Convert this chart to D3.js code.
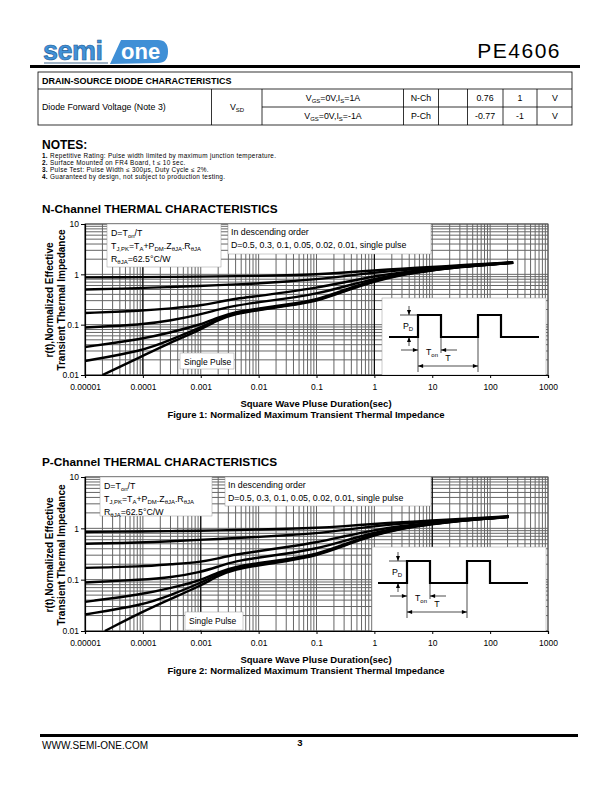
<!DOCTYPE html>
<html>
<head>
<meta charset="utf-8">
<title>PE4606</title>
<script src="https://cdn.jsdelivr.net/npm/d3@7"></script>
<style>
body { margin: 0; background: #fff; }
svg text { font-family: "Liberation Sans", Arial, sans-serif; }
</style>
</head>
<body>
<svg id="page" width="612" height="792"></svg>
<script>
// ---- chart data ----
var xTickValues = [1e-5, 1e-4, 1e-3, 1e-2, 0.1, 1, 10, 100, 1000];
var xTickLabels = ["0.00001", "0.0001", "0.001", "0.01", "0.1", "1", "10", "100", "1000"];
var yTickValues = [0.01, 0.1, 1, 10];
var yTickLabels = ["0.01", "0.1", "1", "10"];
var seriesNames = ["D=0.5", "D=0.3", "D=0.1", "D=0.05", "D=0.02", "D=0.01", "Single Pulse"];

// pulse width (sec) shared by duty-cycle curves
var nTimes = [1e-5, 1e-4, 3e-4, 1e-3, 2e-3, 4e-3, 1e-2, 3e-2, 0.1, 0.3, 1, 3, 10, 30, 100, 250];
var nD05  = [0.87, 0.88, 0.89, 0.9, 0.91, 0.92, 0.93, 0.96, 1.0, 1.08, 1.2, 1.3, 1.4, 1.52, 1.63, 1.75];
var nD03  = [0.5, 0.53, 0.56, 0.59, 0.61, 0.63, 0.66, 0.72, 0.8, 0.92, 1.08, 1.22, 1.33, 1.48, 1.6, 1.73];
var nD01  = [0.17, 0.19, 0.21, 0.24, 0.28, 0.33, 0.37, 0.44, 0.54, 0.69, 0.92, 1.1, 1.27, 1.45, 1.58, 1.72];
var nD005 = [0.088, 0.1, 0.12, 0.16, 0.2, 0.24, 0.28, 0.33, 0.41, 0.57, 0.82, 1.05, 1.24, 1.43, 1.57, 1.71];
var nD002 = [0.036, 0.052, 0.07, 0.1, 0.14, 0.18, 0.21, 0.25, 0.31, 0.49, 0.77, 1.02, 1.22, 1.42, 1.57, 1.7];
var nD001 = [0.019, 0.03, 0.05, 0.088, 0.13, 0.17, 0.2, 0.24, 0.3, 0.47, 0.75, 1.0, 1.21, 1.41, 1.56, 1.7];
var nSingleTimes = [2e-5, 1e-4, 3e-4, 1e-3, 2e-3, 4e-3, 1e-2, 3e-2, 0.1, 0.3, 1, 3, 10, 30, 100, 250];
var nSingle = [0.01, 0.024, 0.044, 0.08, 0.125, 0.165, 0.195, 0.235, 0.29, 0.46, 0.73, 0.99, 1.2, 1.4, 1.55, 1.69];

var pTimes = [1e-5, 1e-4, 3e-4, 1e-3, 2e-3, 4e-3, 1e-2, 3e-2, 0.1, 0.3, 1, 3, 10, 30, 100, 210];
var pD05  = [0.85, 0.87, 0.88, 0.9, 0.91, 0.93, 0.95, 0.98, 1.02, 1.1, 1.22, 1.32, 1.42, 1.53, 1.62, 1.72];
var pD03  = [0.5, 0.53, 0.56, 0.6, 0.62, 0.65, 0.68, 0.73, 0.8, 0.93, 1.1, 1.24, 1.35, 1.48, 1.6, 1.7];
var pD01  = [0.17, 0.18, 0.2, 0.22, 0.26, 0.31, 0.36, 0.43, 0.53, 0.7, 0.93, 1.12, 1.28, 1.45, 1.58, 1.69];
var pD005 = [0.088, 0.1, 0.11, 0.14, 0.18, 0.23, 0.27, 0.32, 0.4, 0.57, 0.83, 1.06, 1.25, 1.43, 1.57, 1.68];
var pD002 = [0.037, 0.052, 0.068, 0.097, 0.14, 0.18, 0.21, 0.25, 0.31, 0.49, 0.78, 1.03, 1.23, 1.42, 1.56, 1.67];
var pD001 = [0.021, 0.032, 0.05, 0.086, 0.13, 0.17, 0.2, 0.24, 0.3, 0.47, 0.76, 1.01, 1.22, 1.41, 1.56, 1.67];
var pSingleTimes = [2.2e-5, 1e-4, 3e-4, 1e-3, 2e-3, 4e-3, 1e-2, 3e-2, 0.1, 0.3, 1, 3, 10, 30, 100, 210];
var pSingle = [0.01, 0.024, 0.042, 0.076, 0.12, 0.16, 0.19, 0.23, 0.29, 0.46, 0.74, 1.0, 1.21, 1.4, 1.55, 1.66];

var svg = d3.select("#page");
var FONT = "Liberation Sans, Arial, sans-serif";

// text with _{sub} parts
function rich(sel, str, size) {
  var parts = str.split(/(_\{[^}]*\})/);
  var shifted = false;
  parts.forEach(function(p) {
    if (!p) return;
    if (p.indexOf("_{") === 0) {
      sel.append("tspan").attr("font-size", size * 0.68).attr("dy", shifted ? 0 : size * 0.25).text(p.slice(2, -1));
      shifted = true;
    } else {
      sel.append("tspan").attr("dy", shifted ? -size * 0.25 : 0).text(p);
      shifted = false;
    }
  });
  return sel;
}

function txt(x, y, str, size, opts) {
  opts = opts || {};
  var t = svg.append("text")
    .attr("x", x).attr("y", y)
    .attr("font-size", size)
    .attr("font-weight", opts.bold ? "bold" : null)
    .attr("text-anchor", opts.anchor || "start")
    .attr("fill", opts.fill || "#000");
  if (opts.spacing) t.attr("letter-spacing", opts.spacing);
  return rich(t, str, size);
}

// ---- header ----
svg.append("line").attr("x1", 44).attr("x2", 108).attr("y1", 63).attr("y2", 63)
  .attr("stroke", "#9fb3c6").attr("stroke-width", 2);
svg.append("text").attr("x", 43).attr("y", 60).attr("font-size", 27).attr("font-weight", "bold")
  .attr("font-family", "DejaVu Sans").attr("letter-spacing", -0.5)
  .attr("fill", "#4192d8").attr("stroke", "#1d5a94").attr("stroke-width", 0.6).text("semi");
svg.append("path")
  .attr("d", "M110,64 L121,40 L158,40 Q168,40 168,51.5 Q168,63 158,63 Z")
  .attr("fill", "#3f8fd6");
svg.append("text").attr("x", 121).attr("y", 59).attr("font-size", 22).attr("font-weight", "bold")
  .attr("font-family", "DejaVu Sans").attr("fill", "#fff").text("one");
txt(561, 58, "PE4606", 21, {anchor: "end", spacing: 1.5});
svg.append("line").attr("x1", 30).attr("x2", 580).attr("y1", 66.5).attr("y2", 66.5)
  .attr("stroke", "#000").attr("stroke-width", 3);

// ---- diode table ----
var tL = 38, tR = 572, tRows = [72, 89, 107, 125];
var tCols = [211.5, 262, 403.5, 438.5, 467.5, 503, 537];
var tg = svg.append("g").attr("stroke", "#000").attr("stroke-width", 0.8);
tg.append("rect").attr("x", tL).attr("y", tRows[0]).attr("width", tR - tL).attr("height", tRows[3] - tRows[0]).attr("fill", "none");
tg.append("line").attr("x1", tL).attr("x2", tR).attr("y1", tRows[1]).attr("y2", tRows[1]);
tg.append("line").attr("x1", tCols[1]).attr("x2", tR).attr("y1", tRows[2]).attr("y2", tRows[2]);
tCols.forEach(function(c) {
  tg.append("line").attr("x1", c).attr("x2", c).attr("y1", tRows[1]).attr("y2", tRows[3]);
});
txt(42, 84, "DRAIN-SOURCE DIODE CHARACTERISTICS", 9, {bold: true});
txt(42, 110, "Diode Forward Voltage (Note 3)", 8.8);
txt(237, 110, "V_{SD}", 8.8, {anchor: "middle"});
txt(333, 101, "V_{GS}=0V,I_{S}=1A", 8.8, {anchor: "middle"});
txt(333, 119, "V_{GS}=0V,I_{S}=-1A", 8.8, {anchor: "middle"});
txt(421, 101, "N-Ch", 8.8, {anchor: "middle"});
txt(421, 119, "P-Ch", 8.8, {anchor: "middle"});
txt(485, 101, "0.76", 8.8, {anchor: "middle"});
txt(485, 119, "-0.77", 8.8, {anchor: "middle"});
txt(520, 101, "1", 8.8, {anchor: "middle"});
txt(520, 119, "-1", 8.8, {anchor: "middle"});
txt(555, 101, "V", 8.8, {anchor: "middle"});
txt(555, 119, "V", 8.8, {anchor: "middle"});

// ---- notes ----
txt(42, 148.5, "NOTES:", 12, {bold: true});
var notes = [
  "Repetitive Rating: Pulse width limited by maximum junction temperature.",
  "Surface Mounted on FR4 Board, t \u2264 10 sec.",
  "Pulse Test: Pulse Width \u2264 300\u03bcs, Duty Cycle \u2264 2%.",
  "Guaranteed by design, not subject to production testing."
];
notes.forEach(function(n, i) {
  var t = svg.append("text").attr("x", 42).attr("y", 157.5 + i * 7.3)
    .attr("font-size", 6.4).attr("letter-spacing", 0.3);
  t.append("tspan").attr("font-weight", "bold").text((i + 1) + ". ");
  t.append("tspan").text(n);
});

// ---- thermal charts ----
function drawChart(cfg) {
  var x = d3.scaleLog().domain([1e-5, 1000]).range([85, 548]);
  var y = d3.scaleLog().domain([0.01, 10]).range([cfg.bottom, cfg.top]);
  var g = svg.append("g");

  txt(42, cfg.top - 11, cfg.title, 11.8, {bold: true});

  // minor + major grid
  g.append("g").selectAll("line").data(x.ticks()).join("line")
    .attr("x1", d => x(d)).attr("x2", d => x(d))
    .attr("y1", cfg.top).attr("y2", cfg.bottom)
    .attr("stroke", "#666").attr("stroke-width", 1);
  g.append("g").selectAll("line").data(y.ticks()).join("line")
    .attr("x1", 85).attr("x2", 548)
    .attr("y1", d => y(d)).attr("y2", d => y(d))
    .attr("stroke", "#666").attr("stroke-width", 1);
  g.append("g").selectAll("line").data(cfg.darkX).join("line")
    .attr("x1", d => x(d)).attr("x2", d => x(d))
    .attr("y1", cfg.top).attr("y2", cfg.bottom)
    .attr("stroke", "#000").attr("stroke-width", 1.1);
  g.append("rect").attr("x", 85).attr("y", cfg.top).attr("width", 463).attr("height", cfg.bottom - cfg.top)
    .attr("fill", "none").attr("stroke", "#555").attr("stroke-width", 1);

  // white annotation boxes
  cfg.boxes.forEach(function(b) {
    g.append("rect").attr("x", b[0]).attr("y", b[1]).attr("width", b[2] - b[0]).attr("height", b[3] - b[1])
      .attr("fill", "#fff").attr("stroke", "#999").attr("stroke-width", 0.5);
  });

  // axes
  var ya = g.append("g").attr("transform", "translate(85,0)")
    .call(d3.axisLeft(y).tickValues(yTickValues).tickFormat((d, i) => yTickLabels[i]).tickSize(4).tickPadding(2));
  var xa = g.append("g").attr("transform", "translate(0," + cfg.bottom + ")")
    .call(d3.axisBottom(x).tickValues(xTickValues).tickFormat((d, i) => xTickLabels[i]).tickSize(3).tickPadding(6));
  [ya, xa].forEach(function(a) {
    a.attr("font-family", FONT).attr("font-size", 8.5);
    a.select(".domain").attr("stroke", "#000").attr("stroke-width", 1.2);
  });

  // curves
  var line = d3.line().x(d => x(d[0])).y(d => y(d[1])).curve(d3.curveBasis);
  cfg.series.forEach(function(s) {
    var pts = s.t.map((t, i) => [t, s.v[i]]);
    g.append("path").attr("d", line(pts)).attr("fill", "none")
      .attr("stroke", "#000").attr("stroke-width", 2.4).attr("stroke-linejoin", "round");
  });

  // annotation text
  var b1 = cfg.boxes[0], b2 = cfg.boxes[1];
  txt(b1[0] + 4, b1[1] + 12, "D=T_{on}/T", 8.8);
  txt(b1[0] + 4, b1[1] + 25, "T_{J,PK}=T_{A}+P_{DM}.Z_{\u03b8JA}.R_{\u03b8JA}", 8.8);
  txt(b1[0] + 4, b1[1] + 38, "R_{\u03b8JA}=62.5\u00b0C/W", 8.8);
  txt(b2[0] + 3, b2[1] + 11, "In descending order", 8.8);
  txt(b2[0] + 3, b2[1] + 24, "D=0.5, 0.3, 0.1, 0.05, 0.02, 0.01, single pulse", 8.8);
  var sp = cfg.boxes[3];
  txt(sp[0] + 4, sp[1] + 12, "Single Pulse", 8.5);

  // pulse sketch inside the inset
  var bx = cfg.pulse[0], by = cfg.pulse[1];
  var r1 = bx + 29, f1 = bx + 52, r2 = bx + 89, f2 = bx + 112, end = bx + 150, hi = by - 22;
  var pg = g.append("g");
  pg.append("path")
    .attr("d", "M" + bx + "," + by + "H" + r1 + "V" + hi + "H" + f1 + "V" + by + "H" + r2 + "V" + hi + "H" + f2 + "V" + by + "H" + end)
    .attr("fill", "none").attr("stroke", "#000").attr("stroke-width", 2.2);
  var thin = function(x1, y1, x2, y2) {
    pg.append("line").attr("x1", x1).attr("y1", y1).attr("x2", x2).attr("y2", y2).attr("stroke", "#000").attr("stroke-width", 0.7);
  };
  var arrow = function(px, py, dir) {
    var a = 3.2;
    var pts = dir === "down" ? [[px, py], [px - a / 1.6, py - a * 1.6], [px + a / 1.6, py - a * 1.6]]
      : dir === "up" ? [[px, py], [px - a / 1.6, py + a * 1.6], [px + a / 1.6, py + a * 1.6]]
      : dir === "right" ? [[px, py], [px - a * 1.6, py - a / 1.6], [px - a * 1.6, py + a / 1.6]]
      : [[px, py], [px + a * 1.6, py - a / 1.6], [px + a * 1.6, py + a / 1.6]];
    pg.append("path").attr("d", "M" + pts.join("L") + "Z").attr("fill", "#000");
  };
  var ax = r1 - 9;
  thin(r1 - 18, hi, r1, hi);
  thin(ax, hi - 9, ax, hi); arrow(ax, hi, "down");
  thin(ax, by + 9, ax, by); arrow(ax, by, "up");
  txt(ax - 1, by - 8, "P_{D}", 8.8, {anchor: "middle"});
  thin(r1, by, r1, by + 35);
  thin(f1, by, f1, by + 16);
  thin(r2, by, r2, by + 35);
  thin(r1 - 17, by + 13, r1, by + 13); arrow(r1, by + 13, "right");
  thin(f1 + 16, by + 13, f1, by + 13); arrow(f1, by + 13, "left");
  txt(f1 - 9, by + 18, "T_{on}", 8.8, {anchor: "middle"});
  thin(r1, by + 29, r2, by + 29); arrow(r1, by + 29, "left"); arrow(r2, by + 29, "right");
  txt((r1 + r2) / 2, by + 24, "T", 8.8, {anchor: "middle"});

  // axis titles and caption
  var yt = svg.append("text").attr("transform", "translate(0," + cfg.yMid + ") rotate(-90)")
    .attr("font-size", 10).attr("font-weight", "bold").attr("text-anchor", "middle");
  yt.append("tspan").attr("x", 0).attr("y", 53).text("r(t),Normalized Effective");
  yt.append("tspan").attr("x", 0).attr("y", 65).text("Transient Thermal Impedance");
  txt(316, cfg.bottom + 32, "Square Wave Pluse Duration(sec)", 9.5, {bold: true, anchor: "middle"});
  txt(306, cfg.bottom + 43, cfg.caption, 9.5, {bold: true, anchor: "middle"});
}

function seriesList(times, singleTimes, arrs, single) {
  var out = arrs.map(v => ({t: times, v: v}));
  out.push({t: singleTimes, v: single});
  return out;
}

drawChart({
  title: "N-Channel THERMAL CHARACTERISTICS",
  caption: "Figure 1: Normalized Maximum Transient Thermal Impedance",
  top: 224, bottom: 375, yMid: 300,
  darkX: [1e-4, 1],
  boxes: [[107, 224, 221, 267], [228, 224, 431, 254], [382, 298, 546, 375], [180, 353, 234, 369]],
  pulse: [389, 337],
  series: seriesList(nTimes, nSingleTimes, [nD05, nD03, nD01, nD005, nD002, nD001], nSingle)
});

drawChart({
  title: "P-Channel THERMAL CHARACTERISTICS",
  caption: "Figure 2: Normalized Maximum Transient Thermal Impedance",
  top: 477, bottom: 631, yMid: 555,
  darkX: [1e-3, 10],
  boxes: [[100, 477, 212, 516], [225, 477, 431, 506], [372, 547, 546, 631], [185, 612, 243, 630]],
  pulse: [378, 583],
  series: seriesList(pTimes, pSingleTimes, [pD05, pD03, pD01, pD005, pD002, pD001], pSingle)
});

// ---- footer ----
svg.append("line").attr("x1", 40).attr("x2", 578).attr("y1", 735.5).attr("y2", 735.5)
  .attr("stroke", "#000").attr("stroke-width", 3);
txt(42, 749, "WWW.SEMI-ONE.COM", 10);
txt(300, 746, "3", 9.5, {bold: true, anchor: "middle"});
</script>
</body>
</html>
